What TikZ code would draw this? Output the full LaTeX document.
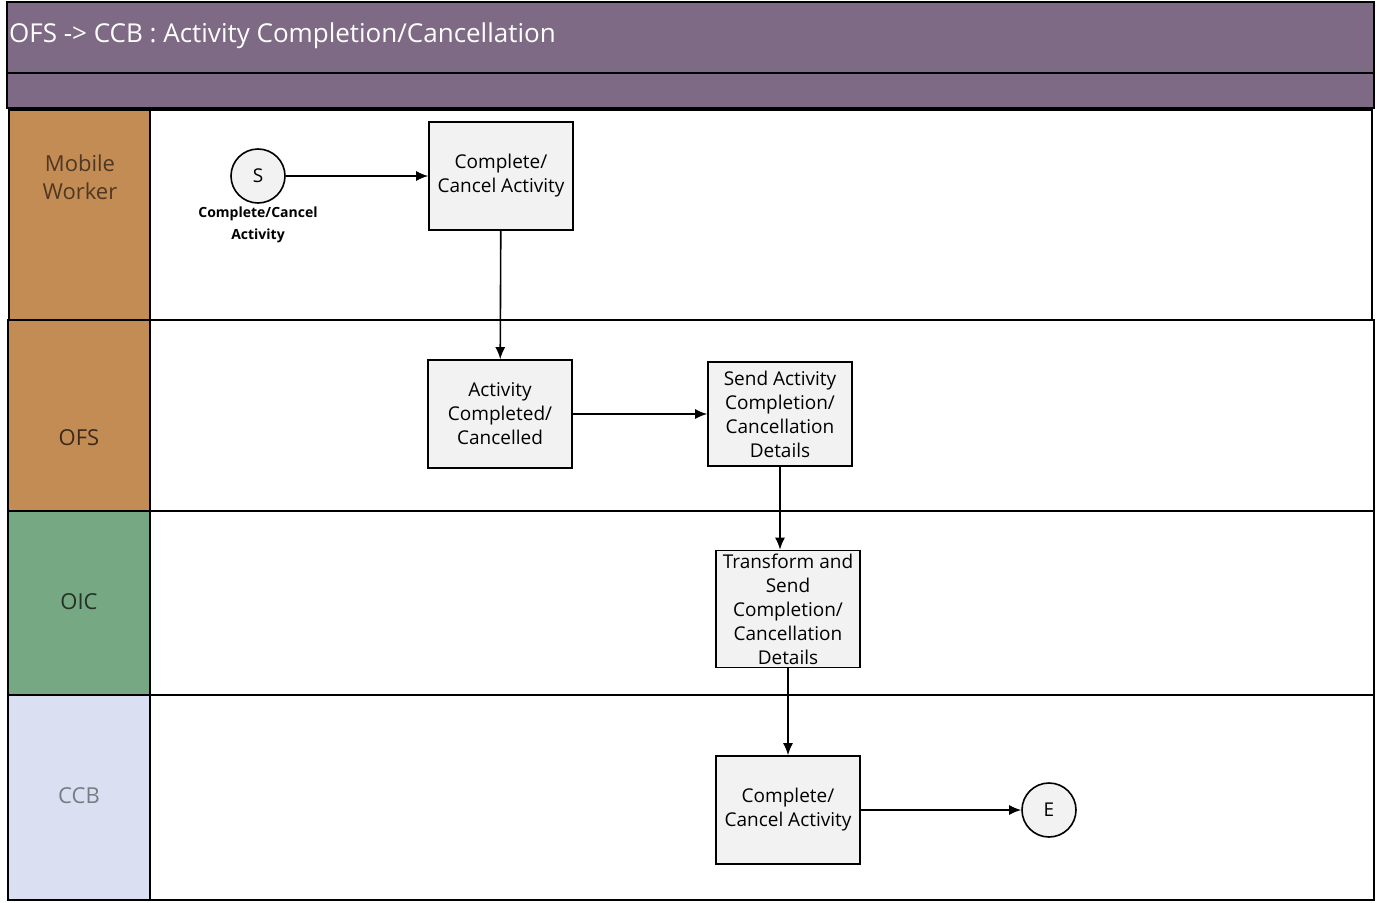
\documentclass[tikz,border=0pt]{standalone}
\usepackage{fontspec}
\setmainfont{Open Sans}
\usetikzlibrary{positioning, arrows.meta}
\definecolor{hdr}{HTML}{7F6A86}
\definecolor{mobile}{HTML}{C48C55}
\definecolor{oic}{HTML}{76A883}
\definecolor{ccb}{HTML}{DAE0F2}
\definecolor{boxfill}{HTML}{F2F2F2}
\tikzset{
  task/.style = {draw, line width = 1.6pt, fill = boxfill, minimum width = 144pt, align = center, font = \fontsize{19}{24}\selectfont, inner sep = 1pt},
  event/.style = {draw, line width = 1.6pt, circle, fill = boxfill, minimum size = 54pt, font = \fontsize{19}{24}\selectfont},
  lane/.style = {font = \fontsize{22}{28}\selectfont, align = center},
  flow/.style = {line width = 1.6pt, -{Latex[length = 12pt, width = 10pt]}}
}
\begin{document}
\begin{tikzpicture}[x = 1pt, y = -1pt]
  \useasboundingbox (0,0) rectangle (1381,902);
  \fill [white] (0,0) rectangle (1381,902);

  \begin{scope}[line width = 1.6pt]
    \draw [fill = hdr] (7,2) rectangle (1374,73);
    \draw [fill = hdr] (7,73) rectangle (1374,108);
    \node [anchor = west, text = white, font = \fontsize{26}{30}\selectfont] (title) at (5,36) {OFS -> CCB : Activity Completion/Cancellation};
  \end{scope}

  \begin{scope}[line width = 1.6pt]
    \draw (150,320) rectangle (1374,511);
    \draw (150,511) rectangle (1374,695);
    \draw (150,695) rectangle (1374,900);
    \draw [fill = mobile] (8,320) rectangle (150,511);
    \draw [fill = oic] (8,511) rectangle (150,695);
    \draw [fill = ccb] (8,695) rectangle (150,900);
    \draw [line width = 2.6pt, fill = mobile] (9,110) rectangle (150,320);
    \draw [line width = 2.6pt] (150,110) rectangle (1372,320);
  \end{scope}

  \begin{scope}
    \node [lane, text = black!60!mobile] (mw) at (80,177) {Mobile\\Worker};
    \node [lane, text = black!70!mobile] (ofs) at (79,438) {OFS};
    \node [lane, text = black!70!oic] (oicl) at (79,602) {OIC};
    \node [lane, text = black!45!ccb!70!gray] (ccbl) at (79,796) {CCB};
  \end{scope}

  \node [event] (start) at (258,176) {S};
  \node [below = 0pt of start, align = center, font = \fontsize{14}{22}\bfseries] (startlbl) {Complete/Cancel\\Activity};
  \node [task, minimum height = 108pt] (cancel) at (501,176) {Complete/\\Cancel Activity};
  \node [task, minimum height = 108pt] (done) at (500,414) {Activity\\Completed/\\Cancelled};
  \node [task, minimum height = 104pt] (send) at (780,414) {Send Activity\\Completion/\\Cancellation\\Details};
  \node [task, minimum height = 117pt] (transform) at (788,609) {Transform and\\Send\\Completion/\\Cancellation\\Details};
  \node [task, minimum height = 108pt] (ccbdone) at (788,810) {Complete/\\Cancel Activity};
  \node [event] (finish) at (1049,810) {E};

  \begin{scope}
    \draw [flow] (start) -- (cancel);
    \draw [flow] (cancel) -- (done);
    \draw [flow] (done) -- (send);
    \draw [flow] (send.south) -- (send.south |- transform.north);
    \draw [flow] (transform) -- (ccbdone);
    \draw [flow] (ccbdone) -- (finish);
  \end{scope}
\end{tikzpicture}
\end{document}
